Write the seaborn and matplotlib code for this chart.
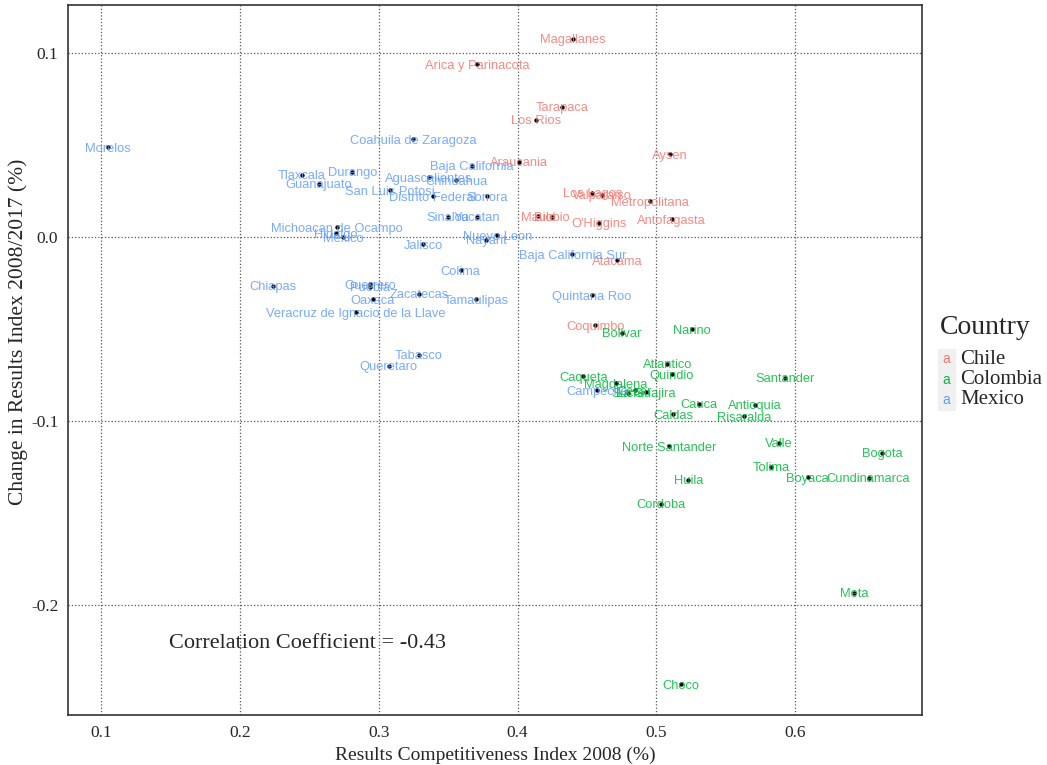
import numpy as np
import pandas as pd
import matplotlib
matplotlib.use('Agg')
import matplotlib.pyplot as plt
import seaborn as sns
from matplotlib.patches import Rectangle

# --- data ---
chile_regions = ['Magallanes', 'Arica y Parinacota', 'Tarapaca', 'Los Rios', 'Araucania',
                 'Aysen', 'Los Lagos', 'Valparaiso', 'Metropolitana', 'Antofagasta',
                 'Maule', 'Biobio', "O'Higgins", 'Atacama', 'Coquimbo']
chile_x = [0.440, 0.371, 0.432, 0.413, 0.401, 0.510, 0.454, 0.461, 0.4955, 0.511,
           0.415, 0.425, 0.459, 0.472, 0.456]
chile_y = [0.108, 0.094, 0.071, 0.064, 0.041, 0.045, 0.024, 0.023, 0.0196, 0.0096,
           0.0114, 0.0111, 0.0078, -0.0125, -0.048]

colombia_regions = ['Bolivar', 'Narino', 'Atlantico', 'Quindio', 'Santander', 'Caqueta',
                    'Magdalena', 'Sucre', 'Cesar', 'La Guajira', 'Cauca', 'Caldas',
                    'Antioquia', 'Risaralda', 'Norte Santander', 'Valle', 'Bogota',
                    'Tolima', 'Boyaca', 'Cundinamarca', 'Huila', 'Cordoba', 'Meta', 'Choco']
colombia_x = [0.475, 0.5256, 0.508, 0.511, 0.593, 0.4475, 0.471, 0.4795, 0.4845, 0.4925,
              0.531, 0.512, 0.571, 0.563, 0.509, 0.5885, 0.663, 0.5825, 0.609, 0.653,
              0.523, 0.5035, 0.6425, 0.518]
colombia_y = [-0.052, -0.050, -0.069, -0.0746, -0.0766, -0.0757, -0.0796, -0.0848, -0.0832,
              -0.0845, -0.0906, -0.0964, -0.0911, -0.0974, -0.1138, -0.1118, -0.1174,
              -0.125, -0.1306, -0.131, -0.1319, -0.145, -0.1934, -0.2432]

mexico_regions = ['Morelos', 'Coahuila de Zaragoza', 'Baja California', 'Tlaxcala', 'Durango',
                  'Guanajuato', 'Aguascalientes', 'Chihuahua', 'San Luis Potosi',
                  'Distrito Federal', 'Sonora', 'Sinaloa', 'Yucatan', 'Michoacan de Ocampo',
                  'Hidalgo', 'Mexico', 'Nuevo Leon', 'Nayarit', 'Jalisco', 'Colima', 'Chiapas',
                  'Guerrero', 'Puebla', 'Zacatecas', 'Tamaulipas', 'Oaxaca',
                  'Veracruz de Ignacio de la Llave', 'Tabasco', 'Queretaro',
                  'Baja California Sur', 'Quintana Roo', 'Campeche']
mexico_x = [0.1045, 0.325, 0.367, 0.2446, 0.281, 0.2566, 0.336, 0.356, 0.308, 0.339,
            0.378, 0.350, 0.371, 0.2698, 0.2690, 0.2745, 0.3855, 0.3774, 0.332, 0.359,
            0.2234, 0.2938, 0.2938, 0.329, 0.370, 0.2957, 0.2835, 0.329, 0.307,
            0.4396, 0.4537, 0.4576]
mexico_y = [0.049, 0.0533, 0.0388, 0.0338, 0.0356, 0.0289, 0.0325, 0.031, 0.0256, 0.0223,
            0.0223, 0.0111, 0.0111, 0.0053, 0.002, 0.0, 0.0009, -0.0013, -0.004, -0.018,
            -0.0265, -0.0256, -0.027, -0.0307, -0.0338, -0.0338, -0.041, -0.0639, -0.0699,
            -0.0093, -0.0316, -0.0833]

corr_label = 'Correlation Coefficient = -0.43'

palette = {'Chile': '#F8766D', 'Colombia': '#00BA38', 'Mexico': '#619CFF'}

df = pd.concat([
    pd.DataFrame({'region': chile_regions, 'x': chile_x, 'y': chile_y, 'country': 'Chile'}),
    pd.DataFrame({'region': colombia_regions, 'x': colombia_x, 'y': colombia_y, 'country': 'Colombia'}),
    pd.DataFrame({'region': mexico_regions, 'x': mexico_x, 'y': mexico_y, 'country': 'Mexico'}),
], ignore_index=True)

sns.set_style('white')
plt.rcParams['font.family'] = ['Liberation Serif', 'DejaVu Serif']

fig = plt.figure(figsize=(10.47, 7.65), dpi=100)
ax = fig.add_axes([68 / 1047, 50 / 765, (922 - 68) / 1047, (715 - 5) / 765])

sns.scatterplot(data=df, x='x', y='y', color='black', s=10, linewidth=0,
                legend=False, ax=ax, zorder=3)

# labels sit centred on the point, a hair below it (as geom_text does)
for _, r in df.iterrows():
    ax.text(r['x'], r['y'] - 0.0008, r['region'], color=palette[r['country']], alpha=0.85,
            ha='center', va='center', fontsize=9.3, family='Liberation Sans', zorder=4)

ax.text(0.2484, -0.221, corr_label, ha='center', va='center', fontsize=16)

ax.set_xlim(0.076, 0.6915)
ax.set_ylim(-0.260, 0.1263)
ax.set_xticks([0.1, 0.2, 0.3, 0.4, 0.5, 0.6])
ax.set_xticklabels(['0.1', '0.2', '0.3', '0.4', '0.5', '0.6'])
ax.set_yticks([-0.2, -0.1, 0.0, 0.1])
ax.set_yticklabels(['-0.2', '-0.1', '0.0', '0.1'])
ax.grid(True, linestyle=':', color='#555555', linewidth=0.9)
ax.set_axisbelow(True)
for s in ax.spines.values():
    s.set_color('#333333')
    s.set_linewidth(1.2)
ax.tick_params(axis='both', labelsize=12.5, length=4, color='#333333', pad=3)
ax.set_xlabel('Results Competitiveness Index 2008 (%)', fontsize=14, labelpad=4)
ax.set_ylabel('Change in Results Index 2008/2017 (%)', fontsize=15.5)
ax.yaxis.set_label_coords(-0.047, 0.54)

# legend
fig.text(940 / 1047, 1 - 328 / 765, 'Country', fontsize=20, ha='left', va='center')
key_y = [359, 380, 400]
for (name, col), yy in zip(palette.items(), key_y):
    fig.patches.append(Rectangle((938 / 1047, 1 - (yy + 10) / 765), 17 / 1047, 20 / 765,
                                 transform=fig.transFigure, color='#F0F0F0', zorder=0))
    fig.text(946.5 / 1047, 1 - yy / 765, 'a', color=col, fontsize=10, family='Liberation Sans',
             ha='center', va='center')
    fig.text(960 / 1047, 1 - yy / 765, name, fontsize=15, ha='left', va='center')

fig.savefig('out.png', dpi=100)
